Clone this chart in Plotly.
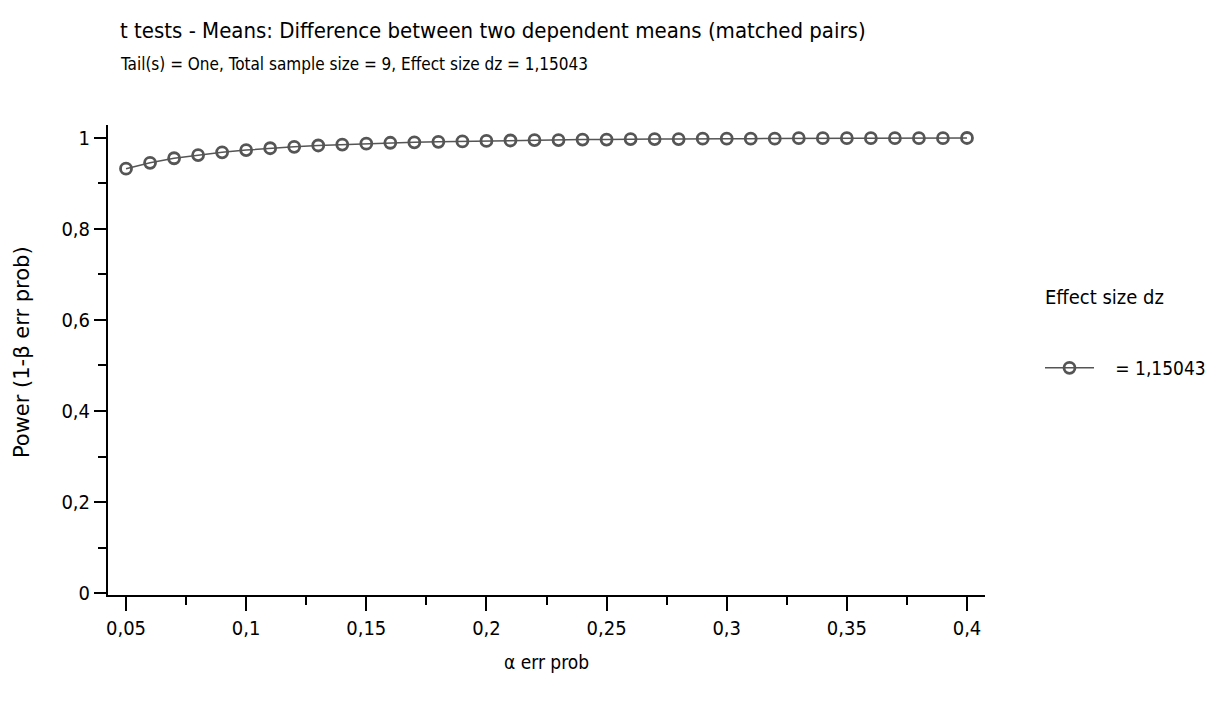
import plotly.graph_objects as go

alpha = [0.05, 0.06, 0.07, 0.08, 0.09, 0.10, 0.11, 0.12, 0.13, 0.14, 0.15, 0.16,
         0.17, 0.18, 0.19, 0.20, 0.21, 0.22, 0.23, 0.24, 0.25, 0.26, 0.27, 0.28,
         0.29, 0.30, 0.31, 0.32, 0.33, 0.34, 0.35, 0.36, 0.37, 0.38, 0.39, 0.40]
power = [0.932, 0.945, 0.955, 0.962, 0.968, 0.973, 0.977, 0.980, 0.983, 0.985,
         0.987, 0.989, 0.990, 0.991, 0.992, 0.993, 0.994, 0.995, 0.995, 0.996,
         0.996, 0.997, 0.997, 0.997, 0.998, 0.998, 0.998, 0.998, 0.999, 0.999,
         0.999, 0.999, 0.999, 0.999, 0.999, 0.9995]
series_name = "\u00a0\u00a0\u00a0= 1,15043"
title_text = "t tests - Means: Difference between two dependent means (matched pairs)"
subtitle_text = "Tail(s) = One, Total sample size = 9, Effect size dz = 1,15043"
legend_title = "Effect size dz"
x_title = "α err prob"
y_title = "Power (1-β err prob)"

COND = "DejaVu Sans Condensed, Liberation Sans Narrow, DejaVu Sans, sans-serif"
GRAY = "#555555"

# page offset caused by the default 8px body margin
OFF = 8
W, H = 1222 - OFF, 702 - OFF
# plot area in page pixels: x 108..986, y 125..595
L, T = 108 - OFF, 125 - OFF
R, B = 1222 - 986, 702 - 595
PW, PH = W - L - R, H - T - B


def px(x):
    return (x - OFF - L) / PW


def py(y):
    return (H - B - (y - OFF)) / PH


fig = go.Figure()
fig.add_trace(go.Scatter(
    x=alpha, y=power, mode="lines+markers", name=series_name,
    line=dict(color=GRAY, width=1.5),
    marker=dict(symbol="circle-open", size=11, color=GRAY, line=dict(width=2.8, color=GRAY)),
))

fig.update_layout(
    width=W, height=H,
    margin=dict(l=L, r=R, t=T, b=B),
    paper_bgcolor="white", plot_bgcolor="white",
    separators=", ",
    font=dict(family=COND, size=20, color="black"),
    showlegend=True,
    legend=dict(x=px(1040), y=py(368), xanchor="left", yanchor="middle",
                font=dict(family=COND, size=19, color="black"),
                itemwidth=49,
                bgcolor="rgba(0,0,0,0)"),
    xaxis=dict(
        range=[0.0425, 0.4075], tick0=0.05, dtick=0.05,
        showgrid=False, zeroline=False, automargin=False,
        showline=True, linecolor="black", linewidth=2,
        ticks="outside", ticklen=14, tickwidth=1.5, tickcolor="black",
        tickfont=dict(family=COND, size=20),
        minor=dict(ticks="outside", ticklen=8, tickwidth=1.5, tickcolor="black",
                   dtick=0.025, tick0=0.05, showgrid=False),
    ),
    yaxis=dict(
        range=[-0.004, 1.028], tick0=0, dtick=0.2,
        showgrid=False, zeroline=False, automargin=False,
        showline=True, linecolor="black", linewidth=2,
        ticks="outside", ticklen=12, tickwidth=1.5, tickcolor="black",
        tickfont=dict(family=COND, size=20),
        minor=dict(ticks="outside", ticklen=8, tickwidth=1.5, tickcolor="black",
                   dtick=0.1, tick0=0, showgrid=False),
    ),
    annotations=[
        dict(text=title_text, xref="paper", yref="paper", x=px(118),
             y=py(30), xanchor="left", yanchor="middle", showarrow=False,
             font=dict(family=COND, size=22, color="black")),
        dict(text=subtitle_text, xref="paper", yref="paper", x=px(118),
             y=py(64), xanchor="left", yanchor="middle", showarrow=False,
             font=dict(family=COND, size=17, color="black")),
        dict(text=legend_title, xref="paper", yref="paper", x=px(1044),
             y=py(297), xanchor="left", yanchor="middle", showarrow=False,
             font=dict(family=COND, size=20, color="black")),
        dict(text=x_title, xref="paper", yref="paper", x=px(547),
             y=py(662), xanchor="center", yanchor="middle", showarrow=False,
             font=dict(family=COND, size=19, color="black")),
        dict(text=y_title, xref="paper", yref="paper", x=px(22),
             y=py(352), xanchor="center", yanchor="middle", showarrow=False,
             textangle=-90,
             font=dict(family="DejaVu Sans", size=21, color="black")),
    ],
)

fig.write_html("out.html")
